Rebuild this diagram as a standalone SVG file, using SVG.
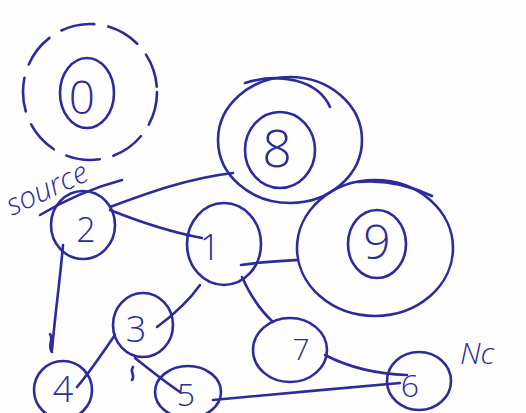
<svg xmlns="http://www.w3.org/2000/svg" width="526" height="413" viewBox="0 0 526 413">
  <style>
    .ink { fill: none; stroke: #2c2b9c; stroke-width: 2.6; stroke-linecap: round; stroke-linejoin: round; }
    .lbl { fill: #2c2b9c; font-family: "Open Sans", Inter, "DejaVu Sans", sans-serif; font-weight: 300; text-anchor: middle; dominant-baseline: central; }
    .note { fill: #2c2b9c; font-family: "Open Sans", Inter, "DejaVu Sans", sans-serif; font-weight: 300; font-style: italic; }
  </style>
  <rect width="526" height="413" fill="#fefefe"/>

  <!-- connectors -->
  <g id="edges" class="ink">
    <path d="M110,207 C150,192 190,178 233,173"/>
    <path d="M110,210 C140,222 170,232 202,238"/>
    <path d="M241,265 C260,262 280,261 298,260"/>
    <path d="M242,277 C250,295 260,310 273,322"/>
    <path d="M200,285 C188,302 172,316 157,327"/>
    <path d="M63,245 C60,280 55,315 52,350"/>
    <path d="M50,334 C54,340 47,345 52,352"/>
    <path d="M115,335 C103,352 90,372 77,387"/>
    <path d="M135,358 C150,370 165,382 180,392"/>
    <path d="M133,367 C129,372 136,375 132,380"/>
    <path d="M213,400 C270,395 340,388 400,383"/>
    <path d="M325,355 C350,368 378,374 407,375"/>
  </g>

  <!-- isolated node 0 -->
  <g id="node0">
    <ellipse class="ink" cx="90" cy="92" rx="67" ry="68" stroke-dasharray="34 14"/>
    <ellipse class="ink" cx="87" cy="93" rx="27" ry="35"/>
    <text class="lbl" x="82" y="96" font-size="46">0</text>
  </g>

  <!-- source label -->
  <g id="source-label">
    <text class="note" x="12" y="216" font-size="30" transform="rotate(-25 12 216)">source</text>
    <path class="ink" d="M40,215 C65,200 92,188 122,180"/>
  </g>

  <g id="node2">
    <ellipse class="ink" cx="83" cy="225" rx="32" ry="34"/>
    <text class="lbl" x="86" y="229" font-size="34">2</text>
  </g>

  <g id="node1">
    <ellipse class="ink" cx="224" cy="244" rx="37" ry="41"/>
    <text class="lbl" x="210" y="246" font-size="36">1</text>
  </g>

  <g id="node3">
    <ellipse class="ink" cx="143" cy="325" rx="30" ry="32"/>
    <text class="lbl" x="136" y="328" font-size="36">3</text>
  </g>

  <g id="node4">
    <ellipse class="ink" cx="63" cy="390" rx="29" ry="29"/>
    <text class="lbl" x="63" y="388" font-size="36">4</text>
  </g>

  <g id="node5">
    <ellipse class="ink" cx="188" cy="392" rx="33" ry="26"/>
    <text class="lbl" x="186" y="393" font-size="32">5</text>
  </g>

  <g id="node7">
    <ellipse class="ink" cx="290" cy="350" rx="37" ry="32"/>
    <text class="lbl" x="301" y="348" font-size="30">7</text>
  </g>

  <g id="node6">
    <ellipse class="ink" cx="419" cy="381" rx="32" ry="29"/>
    <text class="lbl" x="410" y="384" font-size="32">6</text>
  </g>

  <g id="nc-label">
    <text class="note" x="460" y="364" font-size="30">Nc</text>
  </g>

  <g id="node8">
    <ellipse class="ink" cx="290" cy="140" rx="72" ry="63"/>
    <path class="ink" d="M245,83 C280,72 318,80 330,107"/>
    <ellipse class="ink" cx="280" cy="150" rx="35" ry="38"/>
    <text class="lbl" x="277" y="146" font-size="52">8</text>
  </g>

  <g id="node9">
    <ellipse class="ink" cx="375" cy="248" rx="78" ry="68"/>
    <path class="ink" d="M358,182 C380,180 405,183 432,196"/>
    <ellipse class="ink" cx="377" cy="244" rx="29" ry="34"/>
    <text class="lbl" x="377" y="240" font-size="48">9</text>
  </g>
</svg>
